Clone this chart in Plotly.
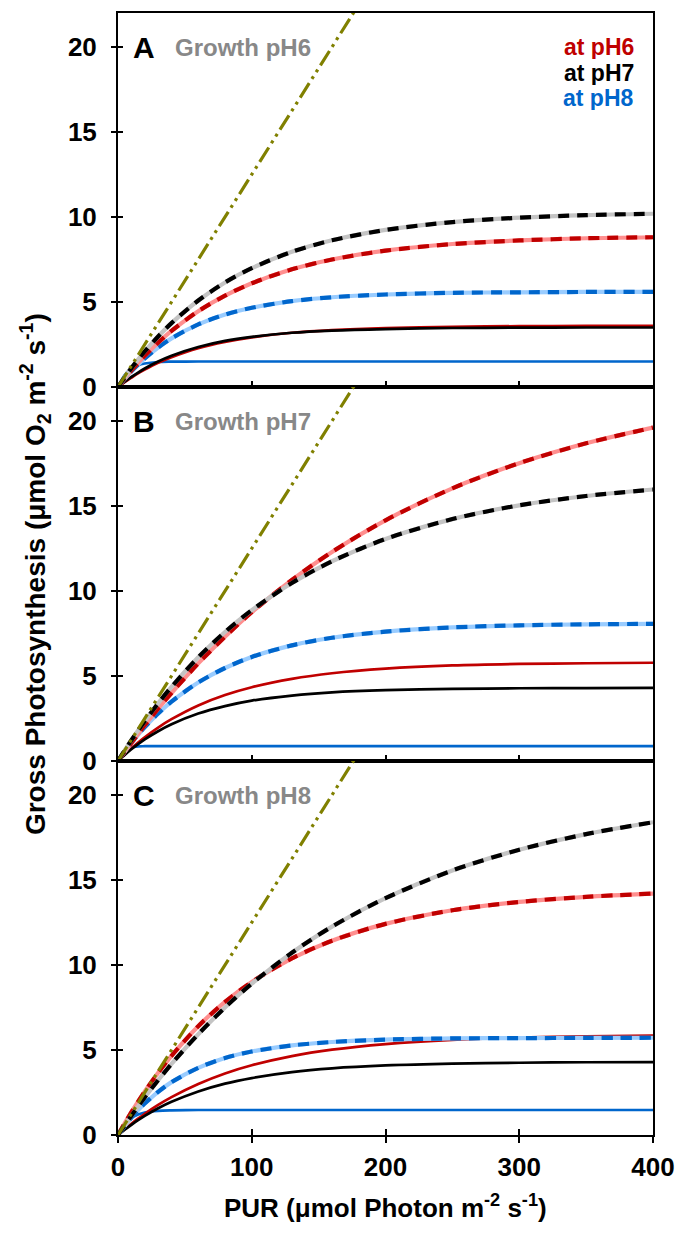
import plotly.graph_objects as go

# ---------------- data ----------------
PUR = [0, 5, 10, 15, 20, 30, 40, 60, 80, 100, 130, 160, 200, 250, 300, 350, 400]

A_DASH_PH6 = [0, 0.50, 0.97, 1.42, 1.84, 2.61, 3.30, 4.46, 5.37, 6.10, 6.92, 7.50, 8.02, 8.41, 8.62, 8.75, 8.81]
A_DASH_PH7 = [0, 0.57, 1.11, 1.61, 2.09, 2.97, 3.76, 5.09, 6.15, 6.99, 7.95, 8.63, 9.24, 9.70, 9.96, 10.11, 10.19]
A_DASH_PH8 = [0, 0.48, 0.92, 1.32, 1.68, 2.32, 2.86, 3.68, 4.26, 4.66, 5.05, 5.28, 5.44, 5.54, 5.57, 5.59, 5.60]
A_SOLID_PH6 = [0, 0.29, 0.55, 0.80, 1.02, 1.42, 1.75, 2.28, 2.65, 2.92, 3.19, 3.35, 3.47, 3.54, 3.58, 3.59, 3.60]
A_SOLID_PH7 = [0, 0.31, 0.59, 0.85, 1.09, 1.50, 1.84, 2.35, 2.71, 2.95, 3.19, 3.32, 3.41, 3.47, 3.49, 3.50, 3.50]
A_SOLID_PH8 = [0, 0.70, 1.08, 1.28, 1.38, 1.47, 1.49, 1.50, 1.50, 1.50, 1.50, 1.50, 1.50, 1.50, 1.50, 1.50, 1.50]

B_DASH_PH6 = [0, 0.54, 1.07, 1.59, 2.10, 3.08, 4.00, 5.74, 7.31, 8.75, 10.65, 12.30, 14.16, 16.04, 17.52, 18.69, 19.61]
B_DASH_PH7 = [0, 0.62, 1.22, 1.79, 2.34, 3.39, 4.36, 6.10, 7.59, 8.87, 10.47, 11.75, 13.06, 14.23, 15.04, 15.59, 15.97]
B_DASH_PH8 = [0, 0.55, 1.06, 1.54, 1.99, 2.79, 3.49, 4.62, 5.47, 6.12, 6.80, 7.25, 7.61, 7.86, 7.98, 8.04, 8.07]
B_SOLID_PH6 = [0, 0.39, 0.75, 1.08, 1.40, 1.97, 2.46, 3.27, 3.88, 4.34, 4.83, 5.16, 5.43, 5.62, 5.71, 5.75, 5.78]
B_SOLID_PH7 = [0, 0.36, 0.69, 0.99, 1.27, 1.75, 2.16, 2.79, 3.23, 3.55, 3.85, 4.04, 4.17, 4.24, 4.28, 4.29, 4.30]
B_SOLID_PH8 = [0, 0.61, 0.80, 0.86, 0.87, 0.88, 0.88, 0.88, 0.88, 0.88, 0.88, 0.88, 0.88, 0.88, 0.88, 0.88, 0.88]

C_DASH_PH6 = [0, 0.69, 1.34, 1.96, 2.56, 3.66, 4.66, 6.40, 7.83, 9.00, 10.39, 11.43, 12.42, 13.22, 13.71, 14.01, 14.20]
C_DASH_PH7 = [0, 0.58, 1.13, 1.68, 2.21, 3.22, 4.18, 5.93, 7.50, 8.90, 10.72, 12.26, 13.93, 15.56, 16.78, 17.70, 18.40]
C_DASH_PH8 = [0, 0.53, 1.02, 1.46, 1.85, 2.54, 3.11, 3.95, 4.53, 4.91, 5.27, 5.47, 5.61, 5.68, 5.70, 5.71, 5.72]
C_SOLID_PH6 = [0, 0.34, 0.66, 0.96, 1.25, 1.77, 2.23, 3.00, 3.62, 4.10, 4.64, 5.02, 5.35, 5.60, 5.73, 5.81, 5.85]
C_SOLID_PH7 = [0, 0.31, 0.60, 0.87, 1.12, 1.57, 1.95, 2.56, 3.02, 3.35, 3.70, 3.92, 4.09, 4.20, 4.25, 4.28, 4.29]
C_SOLID_PH8 = [0, 0.64, 1.00, 1.20, 1.32, 1.42, 1.45, 1.47, 1.47, 1.47, 1.47, 1.47, 1.47, 1.47, 1.47, 1.47, 1.47]

# reference line (initial slope)
OLIVE_X = [0, 200]
OLIVE_Y = [0, 25]

PANEL_LETTERS = ["A", "B", "C"]
PANEL_TITLES = ["Growth pH6", "Growth pH7", "Growth pH8"]
LEGEND_TEXTS = ["at pH6", "at pH7", "at pH8"]
Y_TICKS = [0, 5, 10, 15, 20]
X_TICKS = [0, 100, 200, 300, 400]

# ---------------- styles ----------------
RED, BLACK, BLUE = "#C00000", "#000000", "#0066CC"
PINK, GRAY, LBLUE = "#FF8F8F", "#C4C4C4", "#99CCFF"
OLIVE = "#808000"
FONT = "Liberation Sans"

panels = [
    (A_DASH_PH6, A_DASH_PH7, A_DASH_PH8, A_SOLID_PH6, A_SOLID_PH7, A_SOLID_PH8),
    (B_DASH_PH6, B_DASH_PH7, B_DASH_PH8, B_SOLID_PH6, B_SOLID_PH7, B_SOLID_PH8),
    (C_DASH_PH6, C_DASH_PH7, C_DASH_PH8, C_SOLID_PH6, C_SOLID_PH7, C_SOLID_PH8),
]

fig = go.Figure()

def ax(i, kind):
    return kind if i == 0 else f"{kind}{i + 1}"

for i, (d6, d7, d8, s6, s7, s8) in enumerate(panels):
    xa, ya = ax(i, "x"), ax(i, "y")
    common = dict(xaxis=xa, yaxis=ya, mode="lines", showlegend=False, hoverinfo="skip")
    # solid curves
    for ys, col in ((s8, BLUE), (s6, RED), (s7, BLACK)):
        fig.add_trace(go.Scatter(x=PUR, y=ys, line=dict(color=col, width=2.7, shape="spline", smoothing=0.8), **common))
    # dashed curves: light base + dark dashes
    for ys, light, dark in ((d8, LBLUE, BLUE), (d6, PINK, RED), (d7, GRAY, BLACK)):
        fig.add_trace(go.Scatter(x=PUR, y=ys, line=dict(color=light, width=4.2, shape="spline", smoothing=0.8), **common))
        fig.add_trace(go.Scatter(x=PUR, y=ys, line=dict(color=dark, width=4.2, dash="11px,8px", shape="spline", smoothing=0.8), **common))
    # olive initial-slope line
    fig.add_trace(go.Scatter(x=OLIVE_X, y=OLIVE_Y, line=dict(color=OLIVE, width=3.2, dash="17px,5px,3px,5px,3px,5px"), **common))

# empty traces to register overlay axes (for crossing ticks)
for i in range(3):
    fig.add_trace(go.Scatter(x=[], y=[], xaxis=ax(i, "x"), yaxis=f"y{i + 4}", showlegend=False, hoverinfo="skip"))
fig.add_trace(go.Scatter(x=[], y=[], xaxis="x4", yaxis="y3", showlegend=False, hoverinfo="skip"))

domains = [[2 / 3, 1.0], [1 / 3, 2 / 3], [0.0, 1 / 3]]
tickfont = dict(family=FONT, size=26, color="black", weight="bold")
layout = dict(
    width=678, height=1237,
    margin=dict(l=118, r=25, t=13, b=102, autoexpand=False),
    paper_bgcolor="white", plot_bgcolor="white",
    font=dict(family=FONT, color="black"),
)
for i in range(3):
    xa, ya = ax(i, "x"), ax(i, "y")
    xkey = "xaxis" if i == 0 else f"xaxis{i + 1}"
    ykey = "yaxis" if i == 0 else f"yaxis{i + 1}"
    last = i == 2
    layout[xkey] = dict(
        range=[0, 400], tickvals=X_TICKS, anchor=ya, automargin=False,
        showline=True, linecolor="black", linewidth=2, mirror=True,
        ticks="outside" if last else "inside", ticklen=6, tickwidth=2, tickcolor="black",
        showticklabels=last, tickfont=tickfont, ticklabelstandoff=2,
        showgrid=False, zeroline=False,
        matches=None if i == 0 else "x",
    )
    layout[ykey] = dict(
        domain=domains[i], range=[0, 22], tickvals=Y_TICKS, anchor=xa, automargin=False,
        showline=True, linecolor="black", linewidth=2, mirror=True,
        ticks="outside", ticklen=5, tickwidth=2, tickcolor="black",
        tickfont=tickfont, ticklabelstandoff=9,
        showgrid=False, zeroline=False,
    )
    layout[f"yaxis{i + 4}"] = dict(
        overlaying=ya, anchor=xa, range=[0, 22], tickvals=Y_TICKS, side="left", automargin=False,
        showline=False, ticks="inside", ticklen=5, tickwidth=2, tickcolor="black",
        showticklabels=False, showgrid=False, zeroline=False,
    )
layout["xaxis4"] = dict(
    overlaying="x3", anchor="y3", range=[0, 400], tickvals=X_TICKS, side="bottom", automargin=False,
    showline=False, ticks="inside", ticklen=6, tickwidth=2, tickcolor="black",
    showticklabels=False, showgrid=False, zeroline=False,
)
fig.update_layout(**layout)

annotations = []
for i in range(3):
    xa, ya = ax(i, "x"), ax(i, "y")
    annotations.append(dict(x=10, y=20, xref=xa, yref=ya, text=f"<b>{PANEL_LETTERS[i]}</b>",
                            showarrow=False, xanchor="left", yanchor="middle",
                            font=dict(family=FONT, size=30, color="black")))
    annotations.append(dict(x=41, y=20, xref=xa, yref=ya, text=f"<b>{PANEL_TITLES[i]}</b>",
                            showarrow=False, xanchor="left", yanchor="middle",
                            font=dict(family=FONT, size=24, color="#888888")))
for j, (txt, col) in enumerate(zip(LEGEND_TEXTS, (RED, BLACK, BLUE))):
    annotations.append(dict(x=387, y=20 - 1.5 * j, xref="x", yref="y", text=f"<b>{txt}</b>",
                            showarrow=False, xanchor="right", yanchor="middle", height=24,
                            font=dict(family=FONT, size=23, color=col)))
annotations.append(dict(x=-0.155, y=0.5, xref="paper", yref="paper", textangle=-90,
                        text="<b>Gross Photosynthesis (μmol O<sub>2</sub> m<sup>-2</sup> s<sup>-1</sup>)</b>",
                        showarrow=False, xanchor="center", yanchor="middle",
                        font=dict(family=FONT, size=28, color="black")))
annotations.append(dict(x=0.5, y=-0.064, xref="paper", yref="paper",
                        text="<b>PUR (μmol Photon m<sup>-2</sup> s<sup>-1</sup>)</b>",
                        showarrow=False, xanchor="center", yanchor="middle",
                        font=dict(family=FONT, size=26, color="black")))
fig.update_layout(annotations=annotations)

fig.write_html("out.html")
